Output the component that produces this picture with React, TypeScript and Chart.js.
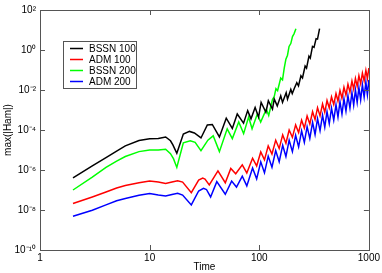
import React, { useEffect, useRef } from "react";
import { Chart, registerables } from "chart.js";

Chart.register(...registerables);

// ---- Data ----
const xTickValues = [1, 10, 100, 1000];
const yTickValues = [1e-10, 1e-8, 1e-6, 1e-4, 1e-2, 1, 100];
const xTitle = "Time";
const yTitle = "max(|Ham|)";
const seriesLabels = ["BSSN 100", "ADM 100", "BSSN 200", "ADM 200"];
const seriesColors = ["#000000", "#ff0000", "#00ff00", "#0000ff"];

const bssn100Time = [2, 3, 4, 5, 6, 8, 10, 12, 14, 15.5, 16.3, 17.7, 20.3, 23.1, 25.6, 29.4, 33.6, 37.3, 43.3, 50, 56.8, 63, 71.9, 78.4, 84.1, 91.7, 98.6, 104, 115, 121, 132, 137, 146, 157, 163, 176, 181, 194, 200, 210, 220, 228, 240, 248, 262, 270, 284, 292, 306, 316, 330, 340, 355];
const bssn100Ham = [4.0e-7, 1.6e-6, 4.2e-6, 8.8e-6, 1.6e-5, 3.0e-5, 3.7e-5, 3.8e-5, 4.5e-5, 2.9e-5, 1.8e-5, 6.8e-6, 6.3e-5, 8.5e-5, 7.1e-5, 4.0e-5, 1.8e-4, 1.9e-4, 4.5e-5, 3.9e-4, 1.2e-4, 6.3e-4, 2.2e-4, 9.3e-4, 3.6e-4, 1.35e-3, 4.4e-4, 2.4e-3, 7.7e-4, 2.9e-3, 1.1e-3, 3.5e-3, 1.6e-3, 5.1e-3, 2.4e-3, 7.4e-3, 3.5e-3, 1.07e-2, 6.6e-3, 1.3e-2, 2.3e-2, 1.6e-2, 5.1e-2, 4.0e-2, 0.157, 0.125, 0.49, 0.39, 1.5, 1.35, 3.7, 3.5, 11.6];

const adm100Time = [2, 3, 4, 5, 6, 8, 10, 12, 14, 16, 18, 20, 24, 28, 30.5, 32, 35, 42, 49, 55, 61, 70, 77, 86.9, 94.7, 103.2, 111.6, 120.7, 130.6, 141.3, 152, 163.6, 175.1, 187.4, 200.6, 214.7, 228.6, 243.4, 257.8, 273.2, 289.3, 306.5, 322.9, 340.2, 358.5, 377.8, 396, 415.1, 435.2, 456.1, 478.1, 501.2, 522.6, 545, 568.2, 592.6, 617.9, 644.3, 671.9, 700.7, 726.8, 754, 782.1, 811.1, 841.4, 872.8, 905.3, 939, 969.2, 1000];
const adm100Ham = [2.1e-8, 4.5e-8, 8.0e-8, 1.26e-7, 1.67e-7, 2.3e-7, 2.8e-7, 2.5e-7, 2.1e-7, 2.5e-7, 2.9e-7, 2.5e-7, 7.4e-8, 3.1e-7, 3.9e-7, 3.5e-7, 1.8e-7, 9.1e-7, 2.3e-7, 1.2e-6, 6.5e-7, 1.8e-6, 7.1e-7, 3.9e-6, 1.6e-6, 8.0e-6, 3.2e-6, 1.6e-5, 6.3e-6, 3.1e-5, 1.2e-5, 5.7e-5, 2.2e-5, 1.0e-4, 4.3e-5, 1.8e-4, 7.5e-5, 3.1e-4, 1.25e-4, 5.0e-4, 2.0e-4, 8.2e-4, 3.3e-4, 1.3e-3, 5.1e-4, 2.0e-3, 7.7e-4, 3.0e-3, 1.27e-3, 4.5e-3, 1.9e-3, 6.7e-3, 2.8e-3, 9.5e-3, 3.9e-3, 1.36e-2, 5.6e-3, 1.94e-2, 8.0e-3, 2.8e-2, 1.12e-2, 3.8e-2, 1.53e-2, 5.2e-2, 2.1e-2, 7.0e-2, 2.9e-2, 9.6e-2, 3.8e-2, 0.126];

const bssn200Time = [2, 3, 4, 5, 6, 8, 10, 12, 14, 15.5, 16.5, 17.7, 20.3, 23.5, 26, 29.4, 34, 38, 43.3, 51, 56.8, 65, 72, 80, 86, 96, 103, 116, 122, 132, 137, 142, 147, 157, 163, 169, 175, 181, 187, 194, 201, 208, 216];
const bssn200Ham = [1.0e-7, 4.4e-7, 1.35e-6, 2.8e-6, 4.7e-6, 8.3e-6, 1.0e-5, 1.0e-5, 1.1e-5, 6.6e-6, 3.7e-6, 1.35e-6, 2.3e-5, 2.9e-5, 2.4e-5, 9.3e-6, 3.1e-5, 5.1e-5, 8.3e-6, 1.15e-4, 3.7e-5, 2.5e-4, 6.6e-5, 4.4e-4, 1.15e-4, 6.3e-4, 2.5e-4, 1.1e-3, 5.3e-4, 3.3e-3, 4.7e-3, 1.16e-2, 9.3e-3, 4.0e-2, 3.2e-2, 0.125, 0.35, 0.55, 1.5, 2.1, 4.7, 6.6, 11.6];

const adm200Time = [2, 3, 4, 5, 6, 8, 10, 12, 14, 16, 18, 20, 24, 28, 31, 33, 36, 41, 49, 56, 62, 70, 77, 86.9, 94.7, 103.2, 111.6, 120.7, 130.6, 141.3, 152, 163.6, 175.1, 187.4, 200.6, 214.7, 228.6, 243.4, 257.8, 273.2, 289.3, 306.5, 322.9, 340.2, 358.5, 377.8, 396, 415.1, 435.2, 456.1, 478.1, 501.2, 522.6, 545, 568.2, 592.6, 617.9, 644.3, 671.9, 700.7, 726.8, 754, 782.1, 811.1, 841.4, 872.8, 905.3, 939, 969.2, 1000];
const adm200Ham = [4.9e-9, 9.8e-9, 1.8e-8, 2.9e-8, 3.8e-8, 5.4e-8, 6.6e-8, 5.6e-8, 5.0e-8, 6.0e-8, 6.9e-8, 5.6e-8, 1.8e-8, 8.9e-8, 1.2e-7, 1.06e-7, 4.5e-8, 2.6e-7, 6.1e-8, 2.8e-7, 1.4e-7, 4.9e-7, 1.6e-7, 1.25e-6, 3.6e-7, 2.55e-6, 7.2e-7, 4.9e-6, 1.39e-6, 9.4e-6, 2.6e-6, 1.73e-5, 4.7e-6, 3.1e-5, 8.3e-6, 5.4e-5, 1.43e-5, 9.1e-5, 2.4e-5, 1.47e-4, 3.8e-5, 2.4e-4, 6.0e-5, 3.7e-4, 9.3e-5, 5.6e-4, 1.4e-4, 8.4e-4, 2.1e-4, 1.24e-3, 3.1e-4, 1.83e-3, 4.4e-4, 2.6e-3, 6.3e-4, 3.7e-3, 8.9e-4, 5.2e-3, 1.26e-3, 7.4e-3, 1.75e-3, 1.0e-2, 2.4e-3, 1.36e-2, 3.2e-3, 1.84e-2, 4.4e-3, 2.5e-2, 5.8e-3, 3.2e-2];

// ---- helpers ----
const FONT = "'Liberation Sans', Arial, Helvetica, sans-serif";
const SUP: Record<string, string> = {
  "-": "\u207B", "0": "\u2070", "1": "\u00B9", "2": "\u00B2", "3": "\u00B3",
  "4": "\u2074", "5": "\u2075", "6": "\u2076", "7": "\u2077", "8": "\u2078", "9": "\u2079",
};
const toSup = (s: string) => s.split("").map((c) => SUP[c] ?? c).join("");
const pairs = (t: number[], v: number[]) => t.map((x, i) => ({ x, y: v[i] }));

const framePlugin = {
  id: "frameAndLegend",
  afterDraw(chart: any) {
    const ctx = chart.ctx as CanvasRenderingContext2D;
    const { left, right, top, bottom } = chart.chartArea;
    const xs = chart.scales.x;
    const ys = chart.scales.y;
    ctx.save();
    ctx.strokeStyle = "#555555";
    ctx.lineWidth = 1;
    ctx.strokeRect(Math.round(left) + 0.5, Math.round(top) + 0.5, Math.round(right - left), Math.round(bottom - top));
    const tl = 5;
    ctx.beginPath();
    for (const v of xTickValues) {
      const px = Math.round(xs.getPixelForValue(v)) + 0.5;
      ctx.moveTo(px, bottom); ctx.lineTo(px, bottom - tl);
      ctx.moveTo(px, top); ctx.lineTo(px, top + tl);
    }
    for (const v of yTickValues) {
      const py = Math.round(ys.getPixelForValue(v)) + 0.5;
      ctx.moveTo(left, py); ctx.lineTo(left + tl, py);
      ctx.moveTo(right, py); ctx.lineTo(right - tl, py);
    }
    ctx.stroke();

    // legend box
    const bx = 63, by = 41, bw = 73, bh = 47;
    ctx.fillStyle = "#ffffff";
    ctx.fillRect(bx, by, bw, bh);
    ctx.strokeStyle = "#555555";
    ctx.strokeRect(bx + 0.5, by + 0.5, bw, bh);
    ctx.font = `10px ${FONT}`;
    ctx.textBaseline = "middle";
    ctx.textAlign = "left";
    seriesLabels.forEach((lab, i) => {
      const y = by + 7.5 + i * 11;
      ctx.strokeStyle = seriesColors[i];
      ctx.lineWidth = 1.5;
      ctx.beginPath();
      ctx.moveTo(70, y); ctx.lineTo(83, y);
      ctx.stroke();
      ctx.fillStyle = "#000000";
      ctx.fillText(lab, 89, y + 0.5);
    });
    ctx.restore();
  },
};

export default function App() {
  const ref = useRef<HTMLCanvasElement | null>(null);
  useEffect(() => {
    if (!ref.current) return;
    const series = [
      pairs(bssn100Time, bssn100Ham),
      pairs(adm100Time, adm100Ham),
      pairs(bssn200Time, bssn200Ham),
      pairs(adm200Time, adm200Ham),
    ];
    const chart = new Chart(ref.current, {
      type: "line",
      data: {
        datasets: series.map((d, i) => ({
          label: seriesLabels[i],
          data: d,
          borderColor: seriesColors[i],
          backgroundColor: seriesColors[i],
          borderWidth: 1.5,
          pointRadius: 0,
          tension: 0,
          fill: false,
        })),
      },
      options: {
        animation: false,
        responsive: false,
        maintainAspectRatio: false,
        layout: { padding: { top: 6, right: 12, left: 0, bottom: 0 } },
        plugins: { legend: { display: false }, tooltip: { enabled: false } },
        scales: {
          x: {
            type: "logarithmic",
            min: 1,
            max: 1000,
            grid: { display: false, drawTicks: false },
            border: { display: false },
            afterBuildTicks: (s: any) => { s.ticks = xTickValues.map((value) => ({ value })); },
            afterFit: (s: any) => { s.height = 23; },
            ticks: {
              autoSkip: false,
              maxRotation: 0,
              padding: 2,
              color: "#000",
              font: { family: FONT, size: 10 },
              callback: (v: any) => String(v),
            },
            title: { display: true, text: xTitle, color: "#000", font: { family: FONT, size: 10 }, padding: 0 },
          },
          y: {
            type: "logarithmic",
            min: 1e-10,
            max: 100,
            grid: { display: false, drawTicks: false },
            border: { display: false },
            afterBuildTicks: (s: any) => { s.ticks = yTickValues.map((value) => ({ value })); },
            afterFit: (s: any) => { s.width = 40; },
            ticks: {
              autoSkip: false,
              padding: 4,
              color: "#000",
              font: { family: FONT, size: 10 },
              callback: (v: any) => "10" + toSup(String(Math.round(Math.log10(Number(v))))),
            },
            title: { display: true, text: yTitle, color: "#000", font: { family: FONT, size: 10 }, padding: { top: 2, bottom: 0 } },
          },
        },
      },
      plugins: [framePlugin],
    } as any);
    return () => chart.destroy();
  }, []);
  return (
    <div style={{ position: "absolute", left: 0, top: 0, width: 382, height: 273, background: "#fff" }}>
      <canvas ref={ref} width={382} height={273} style={{ width: 382, height: 273, display: "block" }} />
    </div>
  );
}
